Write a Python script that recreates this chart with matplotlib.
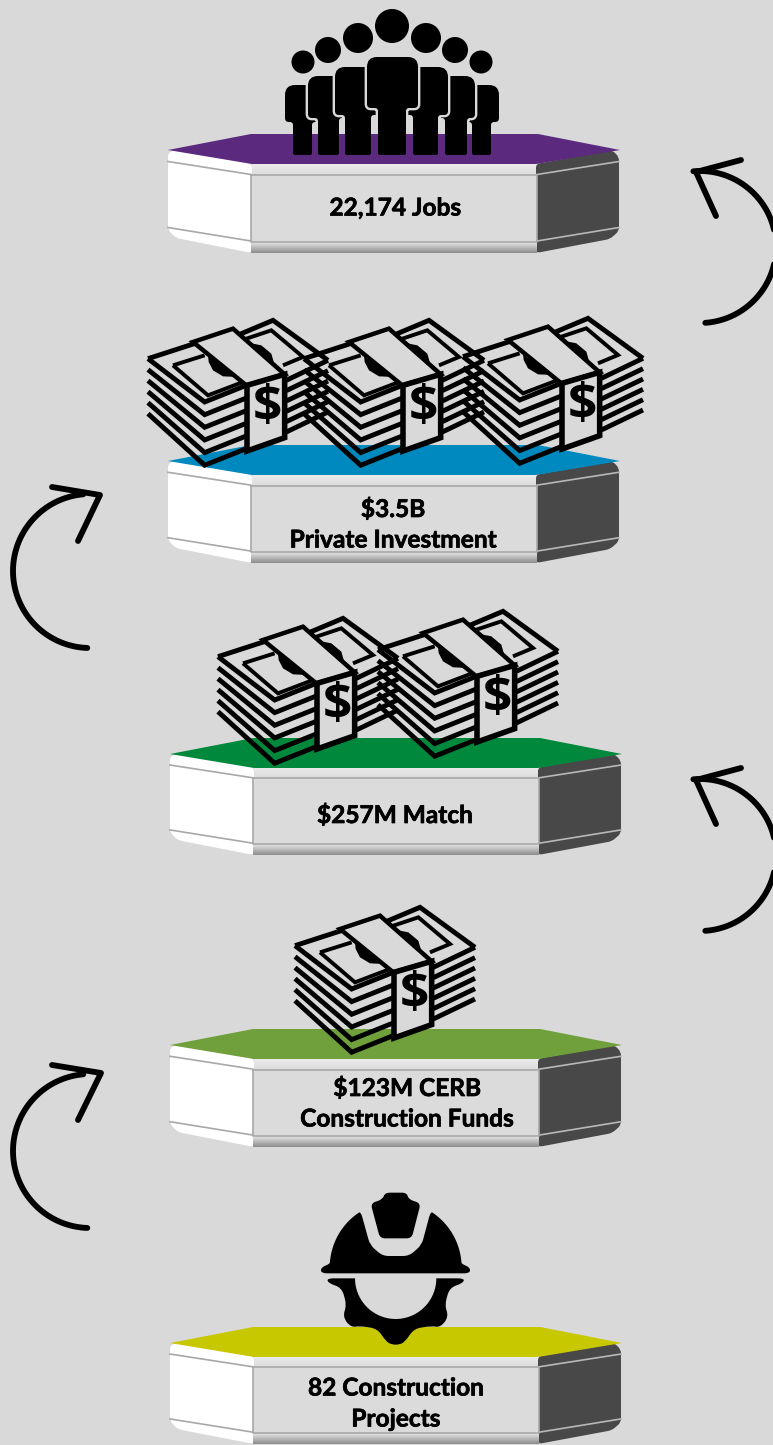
import numpy as np
import matplotlib
matplotlib.use("Agg")
import matplotlib.pyplot as plt
import matplotlib.patheffects as pe
from matplotlib.patches import Polygon, Circle, PathPatch
from matplotlib.path import Path

# ---- content
tier_labels = ["22,174 Jobs", "$3.5B\nPrivate Investment", "$257M Match",
               "$123M CERB\nConstruction Funds", "82 Construction\nProjects"]
tier_colors = ["#5b2a7f", "#0089bf", "#00893d", "#70a03c", "#c8c800"]
tier_tops = [134, 445, 738, 1029, 1327]
tier_heights = [119, 118, 117, 118, 117]
tier_shift = [0, 0, 2, 2, 2]
label_x = [395, 393, 395, 407, 396]
label_y = [[208], [509, 540], [815], [1088, 1119], [1388, 1419]]
money_stacks = [(148, 320), (304, 320), (463, 318),
                (218, 618), (378, 611), (295, 907)]

BG = "#d9d9d9"
fig = plt.figure(figsize=(7.73, 14.45), dpi=100, facecolor=BG)
ax = fig.add_axes([0, 0, 1, 1])
ax.set_facecolor(BG)
ax.axis("off")


def poly(pts, fc, ec="none", lw=0, z=2, join="miter"):
    p = Polygon(pts, closed=True, facecolor=fc, edgecolor=ec, linewidth=lw,
                zorder=z, joinstyle=join)
    ax.add_patch(p)
    return p


def round_path(pts, radii):
    n = len(pts)
    if np.isscalar(radii):
        radii = [radii]*n
    vs, cs = [], []
    for i in range(n):
        p = np.array(pts[i], float)
        a = np.array(pts[i-1], float)
        b = np.array(pts[(i+1) % n], float)
        r = radii[i]
        ra = min(r, np.linalg.norm(a-p)/2)
        rb = min(r, np.linalg.norm(b-p)/2)
        s = p + (a-p)/max(np.linalg.norm(a-p), 1e-6)*ra
        e = p + (b-p)/max(np.linalg.norm(b-p), 1e-6)*rb
        vs += [tuple(s), tuple(p), tuple(e)]
        cs += [Path.LINETO if i else Path.MOVETO, Path.CURVE3, Path.CURVE3]
    vs.append(vs[0])
    cs.append(Path.CLOSEPOLY)
    return Path(vs, cs)


def rpoly(pts, r, fc="black", ec="none", lw=0, z=5):
    ax.add_patch(PathPatch(round_path(pts, r), fc=fc, ec=ec, lw=lw, zorder=z))


def grad(x0, x1, y0, y1, c0, c1, z=2):
    g = np.linspace(c0, c1, 32).reshape(-1, 1)
    ax.imshow(g, extent=[x0, x1, y1, y0], cmap="gray", vmin=0, vmax=1,
              aspect="auto", zorder=z, interpolation="bilinear")


def tier(top, h, color, dx, label, lx, lys):
    x = lambda v: v + dx
    Y = lambda o: top + o*h/119
    line = "#a8a8a8"
    rpoly([(x(168), Y(19)), (x(175), Y(16)), (x(252), Y(30)), (x(252), Y(119)),
           (x(176), Y(104)), (x(168), Y(96))], 4, fc="white", z=2)
    ax.plot([x(168), x(251)], [Y(27.5), Y(40.5)], color=line, lw=1.2, zorder=3)
    ax.plot([x(168), x(251)], [Y(93.5), Y(107)], color=line, lw=1.2, zorder=3)
    rpoly([(x(536), Y(30)), (x(612), Y(16)), (x(619), Y(23)), (x(619), Y(97)),
           (x(610), Y(105)), (x(536), Y(119))], 4, fc="#484848", z=2)
    ax.plot([x(537), x(619)], [Y(40.5), Y(27.5)], color="#b8b8b8", lw=1.2, zorder=3)
    ax.plot([x(537), x(619)], [Y(107), Y(93.5)], color="#b8b8b8", lw=1.2, zorder=3)
    poly([(x(251), Y(41)), (x(537), Y(41)), (x(537), Y(108)), (x(251), Y(108))], "#dbdbdb", z=2)
    grad(x(252), x(536), Y(30), Y(41), 0.92, 0.86)
    grad(x(251), x(537), Y(108), Y(119), 0.90, 0.55)
    ax.plot([x(251), x(537), x(537), x(251), x(251)],
            [Y(41), Y(41), Y(108), Y(108), Y(41)], color="#a8a8a8", lw=1.2, zorder=3)
    poly([(x(168), top+16), (x(251), top), (x(538), top), (x(620), top+16),
          (x(536), top+30), (x(252), top+30)], color, z=4)
    for line_txt, ly in zip(label.split("\n"), lys):
        ax.text(lx, ly, line_txt, ha="center", va="center", family="Lato",
                weight="bold", fontsize=17.6, color="black", zorder=12,
                path_effects=[pe.withStroke(linewidth=0.5, foreground="black")])


def person(hx, hy, r, bx0, bx1, by0, by1, lx0, lx1, z):
    ax.add_patch(Circle((hx, hy), r, fc="black", ec="none", zorder=z))

    def shape(bottom):
        return [(bx0, by0), (bx1, by0), (bx1, by1), (lx1, by1), (lx1, bottom),
                (lx0, bottom), (lx0, by1), (bx0, by1)]
    rad = [10, 10, 4, 3, 2, 2, 3, 4]
    rpoly(shape(132), rad, fc=BG, ec=BG, lw=3.4, z=z)
    rpoly(shape(155), rad, z=z+0.1)


def people():
    person(303, 62, 11.5, 285, 322, 85, 122, 293, 312, 5)
    person(481, 62, 11.5, 462, 499, 85, 122, 472, 491, 5)
    person(328, 50, 13, 308, 350, 76, 118, 318, 339, 6)
    person(455, 50, 13, 434, 475, 76, 118, 445, 467, 6)
    person(358, 38, 15, 335, 385, 67, 115, 345, 371, 7)
    person(426, 38, 15, 398, 448, 67, 115, 413, 438, 7)
    person(392, 26, 17, 367, 418, 57, 108, 378, 406, 8)


def money(ox, oy, z):
    P = lambda pts: [(ox + (a-15)/3, oy + (b-19)/3) for a, b in pts]
    lw = 3.5

    def ln(pts, w=lw):
        q = P(pts)
        ax.plot([a for a, _ in q], [b for _, b in q], color="black", lw=w, zorder=z,
                solid_joinstyle="miter", solid_capstyle="butt")
    for i in range(6):
        dl, dr = i*33, i*31
        ln([(15, 135+dl), (185, 265+dl*1.15), (310, 215+dl*1.15)])
        ln([(430, 200+dr), (555, 140+dr)])
    ln([(15, 135), (160, 88)])
    ln([(290, 62), (390, 20), (555, 140)])
    ln([(90, 155), (185, 125)], w=2.8)
    ln([(90, 155), (195, 245), (300, 205)], w=2.8)
    ln([(310, 75), (385, 50), (480, 130), (420, 155)], w=2.8)
    for pts in ([(195, 125), (285, 190), (240, 188), (210, 170), (197, 145)],
                [(320, 88), (395, 155), (385, 120), (355, 95)]):
        poly(P(pts), "black", z=z)
    poly(P([(150, 85), (270, 45), (425, 182), (310, 215)]), BG, "black", 3.2, z=z+0.1)
    poly(P([(312, 215), (425, 182), (425, 372), (312, 412)]), BG, "black", 4, z=z+0.1)
    cx, cy = P([(373, 282)])[0]
    ax.text(cx, cy, "$", ha="center", va="center",
            family=["Liberation Sans Narrow", "Open Sans"], weight="bold",
            fontsize=37, color="black", zorder=z+0.2)


def helmet():
    P = lambda pts: [(160 + a/3, 1180 + b/3) for a, b in pts]
    z = 6
    rpoly(P([(632, 70), (668, 58), (675, 38), (740, 38), (746, 58), (782, 70),
             (755, 175), (660, 175)]), 5, z=z)
    arcL = [(707 + 198*np.cos(np.radians(a)), 262 - 198*np.sin(np.radians(a)))
            for a in np.linspace(175, 122, 14)]
    arcR = [(707 + 198*np.cos(np.radians(a)), 262 - 198*np.sin(np.radians(a)))
            for a in np.linspace(58, 5, 14)]
    pts = [(483, 280), (483, 262), (509, 252)] + arcL + \
          [(630, 195), (668, 228), (747, 228), (785, 195)] + arcR + \
          [(905, 252), (930, 262), (930, 280)]
    rpoly(P(pts), 6, z=z)
    th = np.linspace(0, np.pi, 40)
    inner = [(707 + 122*np.cos(a), 295 + 122*np.sin(a)) for a in th]
    left = [(500, 295), (506, 310), (545, 323), (560, 375), (548, 410), (572, 442),
            (600, 438), (652, 446), (678, 484), (695, 494)]
    right = [(2*707 - a, b) for a, b in left[::-1]]
    rpoly(P(left + right + inner), [7]*len(left + right) + [0]*len(inner), z=z)


def arc(cx, cy, r, a0, a1, tip, arm1, arm2):
    th = np.radians(np.linspace(a0, a1, 80))
    ax.plot(cx + r*np.cos(th), cy + r*np.sin(th), color="black", lw=4.2, zorder=9,
            solid_capstyle="round")
    ax.plot([arm1[0], tip[0], arm2[0]], [arm1[1], tip[1], arm2[1]], color="black",
            lw=4.2, zorder=9, solid_joinstyle="round", solid_capstyle="round")


for top, h, col, dx, lab, lx, lys in zip(tier_tops, tier_heights, tier_colors, tier_shift,
                                         tier_labels, label_x, label_y):
    tier(top, h, col, dx, lab, lx, lys)

people()
for n, (mx, my) in enumerate(money_stacks):
    money(mx, my, 5 + n*0.3)
helmet()

arc(700, 247, 76, 86, -95, (696, 172), (741, 160), (716, 216))
arc(700, 855, 76, 86, -95, (696, 780), (741, 768), (716, 824))
arc(90, 571, 77, 92, 265, (100, 495), (52, 487), (78, 541))
arc(90, 1151, 77, 92, 265, (101, 1073), (52, 1065), (78, 1120))

ax.set_xlim(0, 773)
ax.set_ylim(1445, 0)
fig.savefig("out.png", dpi=100, facecolor=BG)
